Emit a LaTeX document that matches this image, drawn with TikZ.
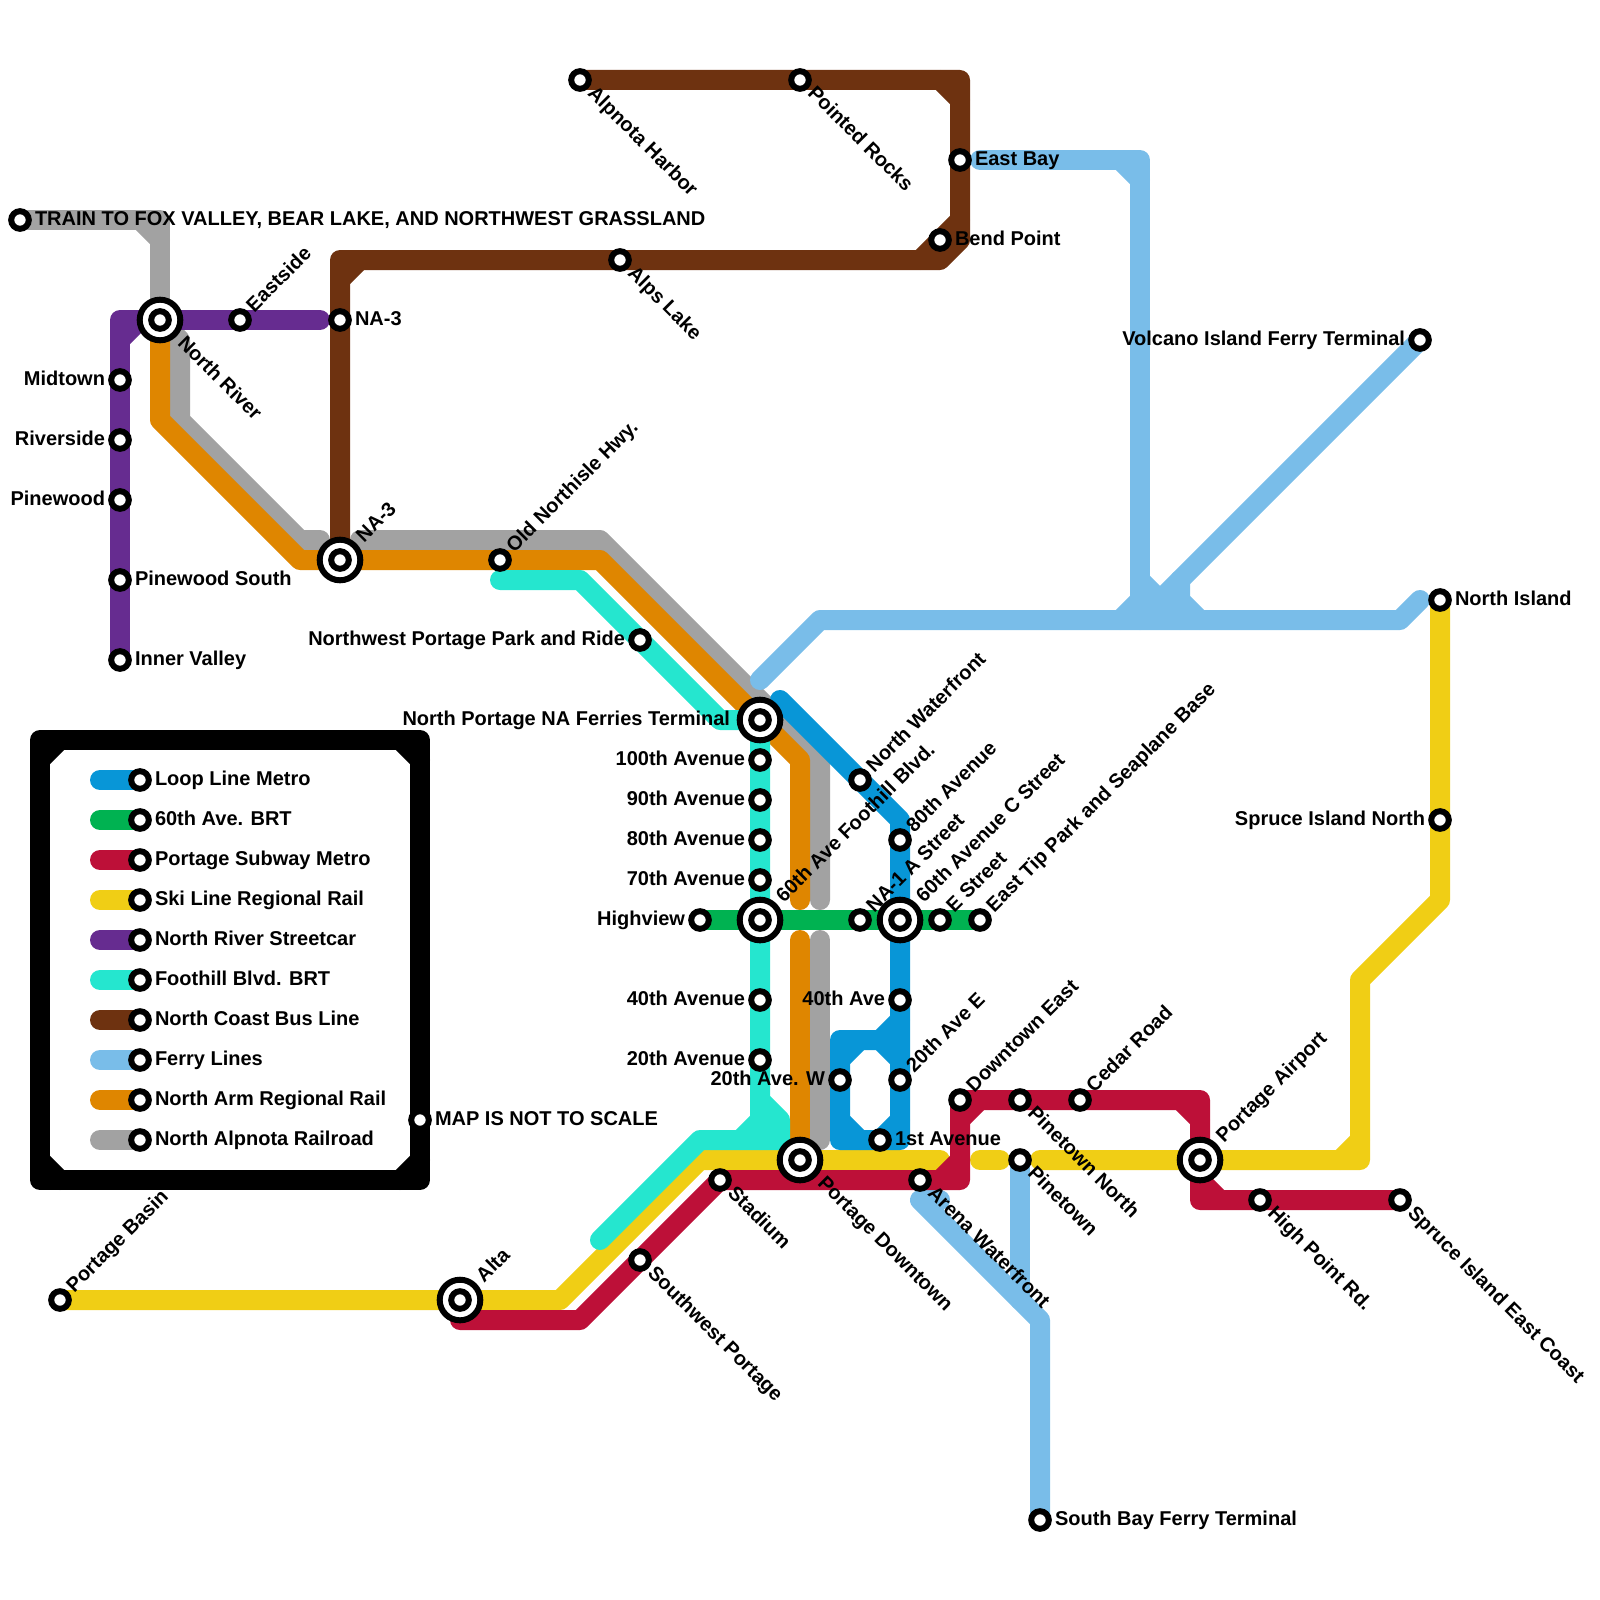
\documentclass[tikz,border=0pt]{standalone}
\usepackage{xcolor}
\usepackage{fontspec}
\setmainfont{Liberation Sans}
\usepackage{tikz}
\usetikzlibrary{positioning}
\definecolor{loopblue}{RGB}{8,150,215}
\definecolor{brtgreen}{RGB}{0,178,81}
\definecolor{subred}{RGB}{189,16,56}
\definecolor{skiyellow}{RGB}{240,206,21}
\definecolor{carpurple}{RGB}{102,44,144}
\definecolor{brtteal}{RGB}{37,230,207}
\definecolor{busbrown}{RGB}{110,50,16}
\definecolor{ferryblue}{RGB}{121,189,233}
\definecolor{armorange}{RGB}{223,134,0}
\definecolor{railgray}{RGB}{162,162,162}
\pgfdeclarelayer{lines}
\pgfsetlayers{lines,main}
\tikzset{
  metro/.style={line width=20pt, line cap=round, line join=round},
  loopline/.style={metro, color=loopblue},
  greenline/.style={metro, color=brtgreen},
  redline/.style={metro, color=subred},
  yellowline/.style={metro, color=skiyellow},
  purpleline/.style={metro, color=carpurple},
  tealline/.style={metro, color=brtteal},
  brownline/.style={metro, color=busbrown},
  ferryline/.style={metro, color=ferryblue},
  orangeline/.style={metro, color=armorange},
  grayline/.style={metro, color=railgray},
  frameline/.style={metro, color=black},
  stn/.style={circle, draw=black, fill=white, line width=6pt,
    minimum size=17.6pt, inner sep=0pt, outer sep=0pt},
  hub/.style={circle, draw=black, fill=white, line width=6pt,
    minimum size=40.6pt, inner sep=0pt, outer sep=0pt},
  lbl/.style={font=\fontsize{20}{24}\selectfont\bfseries, inner sep=0pt, outer sep=0pt},
  lblr/.style={lbl, anchor=base west, xshift=#1, yshift=-5.2pt},
  lblr/.default=15pt,
  lbll/.style={lbl, anchor=base east, xshift=-#1, yshift=-5.2pt},
  lbll/.default=15pt,
  lblne/.style={lbl, anchor=base west, rotate=45, xshift=#1, yshift=-5.2pt},
  lblne/.default=15pt,
  lblse/.style={lbl, anchor=base west, rotate=-45, xshift=#1, yshift=-5.2pt},
  lblse/.default=15pt
}
\begin{document}
\begin{tikzpicture}[x=1pt, y=-1pt]
  \useasboundingbox (0,0) rectangle (1600,1600);

  % Stations along the left side
  \node[stn] (train) at (20,220) {};
  \node[hub] (nriver) at (160,320) {};
  \node[stn] (nriverin) at (nriver) {};
  \node[stn] (eastside) at (240,320) {};
  \node[stn] (natop) at (340,320) {};
  \node[stn] (midtown) at (120,380) {};
  \node[stn] (riverside) at (120,440) {};
  \node[stn] (pinewood) at (120,500) {};
  \node[stn] (pinesouth) at (120,580) {};
  \node[stn] (innervalley) at (120,660) {};
  \node[hub] (nahub) at (340,560) {};
  \node[stn] (nahubin) at (nahub) {};
  \node[stn] (northisle) at (500,560) {};
  \node[stn] (parkride) at (640,640) {};

  % Stations along the north coast and the ferries
  \node[stn] (alpnota) at (580,80) {};
  \node[stn] (pointed) at (800,80) {};
  \node[stn] (eastbay) at (960,160) {};
  \node[stn] (bendpoint) at (940,240) {};
  \node[stn] (alpslake) at (620,260) {};
  \node[stn] (volcano) at (1420,340) {};
  \node[stn] (nisland) at (1440,600) {};
  \node[stn] (sprucen) at (1440,820) {};
  \node[stn] (southbay) at (1040,1520) {};

  % Stations in the centre
  \node[hub] (nportage) at (760,720) {};
  \node[stn] (nportagein) at (nportage) {};
  \node[stn] (ave100) at (760,760) {};
  \node[stn] (ave90) at (760,800) {};
  \node[stn] (ave80) at (760,840) {};
  \node[stn] (ave70) at (760,880) {};
  \node[hub] (foothill) at (760,920) {};
  \node[stn] (foothillin) at (foothill) {};
  \node[stn] (ave40) at (760,1000) {};
  \node[stn] (ave20) at (760,1060) {};
  \node[stn] (highview) at (700,920) {};
  \node[stn] (naone) at (860,920) {};
  \node[hub] (cstreet) at (900,920) {};
  \node[stn] (cstreetin) at (cstreet) {};
  \node[stn] (estreet) at (940,920) {};
  \node[stn] (easttip) at (980,920) {};
  \node[stn] (nwater) at (860,780) {};
  \node[stn] (loop80) at (900,840) {};
  \node[stn] (loop40) at (900,1000) {};
  \node[stn] (loop20e) at (900,1080) {};
  \node[stn] (loop20w) at (840,1080) {};
  \node[stn] (first) at (880,1140) {};

  % Stations along the south
  \node[stn] (basin) at (60,1300) {};
  \node[hub] (alta) at (460,1300) {};
  \node[stn] (altain) at (alta) {};
  \node[stn] (swportage) at (640,1260) {};
  \node[stn] (stadium) at (720,1180) {};
  \node[hub] (pdown) at (800,1160) {};
  \node[stn] (pdownin) at (pdown) {};
  \node[stn] (arena) at (920,1180) {};
  \node[stn] (dteast) at (960,1100) {};
  \node[stn] (pinenorth) at (1020,1100) {};
  \node[stn] (cedar) at (1080,1100) {};
  \node[stn] (pinetown) at (1020,1160) {};
  \node[hub] (airport) at (1200,1160) {};
  \node[stn] (airportin) at (airport) {};
  \node[stn] (highpoint) at (1260,1200) {};
  \node[stn] (spruceec) at (1400,1200) {};
  \node[stn] (noscale) at (420,1120) {};

  % Key
  \node[stn] (keyloop) at (140,780) {};
  \node[stn] (keygreen) at (140,820) {};
  \node[stn] (keyred) at (140,860) {};
  \node[stn] (keyyellow) at (140,900) {};
  \node[stn] (keypurple) at (140,940) {};
  \node[stn] (keyteal) at (140,980) {};
  \node[stn] (keybrown) at (140,1020) {};
  \node[stn] (keyferry) at (140,1060) {};
  \node[stn] (keyorange) at (140,1100) {};
  \node[stn] (keygray) at (140,1140) {};

  \begin{pgfonlayer}{lines}
    % North Alpnota Railroad
    \draw[grayline] (train.center) -- (160,220) -- (nriver.center);
    \draw[grayline] (140,220) -- (160,240);
    \draw[grayline] (nriver.center) -- (180,340) -- (180,420) -- (300,540) -- (320,540);
    \draw[grayline] (360,540) -- (600,540) -- (820,760) -- (820,900);
    \draw[grayline] (820,940) -- (820,1140);
    % North Arm Regional Rail
    \draw[orangeline] (nriver.center) -- (160,420) -- (300,560) -- (nahub.center)
      -- (northisle.center) -- (600,560) -- (800,760) -- (800,900);
    \draw[orangeline] (800,940) -- (pdown.center);
    % Ferry Lines
    \draw[ferryline] (760,680) -- (820,620) -- (1400,620) -- (1420,600);
    \draw[ferryline] (eastbay.center) ++(20,0) -- (1140,160) -- (1140,620);
    \draw[ferryline] (1120,160) -- (1140,180);
    \draw[ferryline] (1140,600) -- (1120,620);
    \draw[ferryline] (1140,580) -- (1180,620);
    \draw[ferryline] (volcano.center) -- (1140,620);
    \draw[ferryline] (1180,580) -- (1180,600) -- (1200,620);
    \draw[ferryline] (southbay.center) -- (1040,1320) -- (920,1200) -- (940,1200);
    \draw[ferryline] (pinetown.center) -- (1020,1300);
    % North Coast Bus Line
    \draw[brownline] (alpnota.center) -- (960,80) -- (960,240) -- (940,260) -- (340,260) -- (nahub.center);
    \draw[brownline] (940,80) -- (960,100);
    \draw[brownline] (960,220) -- (920,260);
    \draw[brownline] (360,260) -- (340,280);
    % North River Streetcar
    \draw[purpleline] (320,320) -- (120,320) -- (innervalley.center);
    \draw[purpleline] (140,320) -- (120,340);
    % Ski Line Regional Rail
    \draw[yellowline] (basin.center) -- (560,1300) -- (700,1160) -- (940,1160);
    \draw[yellowline] (980,1160) -- (1000,1160);
    \draw[yellowline] (1040,1160) -- (1360,1160) -- (1360,980) -- (1440,900) -- (nisland.center);
    \draw[yellowline] (1340,1160) -- (1360,1140);
    % Foothill Blvd. BRT
    \draw[tealline] (500,580) -- (580,580) -- (720,720) -- (nportage.center) -- (760,1100)
      -- (780,1120) -- (780,1140) -- (700,1140) -- (600,1240);
    \draw[tealline] (760,1100) -- (760,1140);
    \draw[tealline] (760,1120) -- (740,1140);
    % Portage Subway Metro
    \draw[redline] (alta.center) ++(0,20) -- (580,1320) -- (stadium.center) -- (960,1180)
      -- (960,1100) -- (1200,1100) -- (1200,1200) -- (spruceec.center);
    \draw[redline] (960,1160) -- (940,1180);
    \draw[redline] (980,1100) -- (960,1120);
    \draw[redline] (1180,1100) -- (1200,1120);
    \draw[redline] (1200,1180) -- (1220,1200);
    % 60th Ave. BRT
    \draw[greenline] (highview.center) -- (easttip.center);
    % Loop Line Metro
    \draw[loopline] (780,700) -- (900,820) -- (900,1140) -- (840,1140) -- (840,1040) -- (900,1040);
    \draw[loopline] (900,1020) -- (880,1040);
    \draw[loopline] (860,1040) -- (840,1060);
    \draw[loopline] (880,1040) -- (900,1060);
    \draw[loopline] (840,1120) -- (860,1140);
    \draw[loopline] (900,1120) -- (880,1140);
    % Key frame and swatches
    \draw[frameline] (40,740) rectangle (420,1180);
    \draw[frameline] (60,740) -- (40,760);
    \draw[frameline] (400,740) -- (420,760);
    \draw[frameline] (40,1160) -- (60,1180);
    \draw[frameline] (420,1160) -- (400,1180);
    \draw[loopline] (100,780) -- (keyloop.center);
    \draw[greenline] (100,820) -- (keygreen.center);
    \draw[redline] (100,860) -- (keyred.center);
    \draw[yellowline] (100,900) -- (keyyellow.center);
    \draw[purpleline] (100,940) -- (keypurple.center);
    \draw[tealline] (100,980) -- (keyteal.center);
    \draw[brownline] (100,1020) -- (keybrown.center);
    \draw[ferryline] (100,1060) -- (keyferry.center);
    \draw[orangeline] (100,1100) -- (keyorange.center);
    \draw[grayline] (100,1140) -- (keygray.center);
  \end{pgfonlayer}

  % Labels to the right
  \node[lblr] (trainlbl) at (train) {TRAIN TO FOX VALLEY, BEAR LAKE, AND NORTHWEST GRASSLAND};
  \node[lblr] (natoplbl) at (natop) {NA-3};
  \node[lblr] (pinesouthlbl) at (pinesouth) {Pinewood South};
  \node[lblr] (innervalleylbl) at (innervalley) {Inner Valley};
  \node[lblr] (eastbaylbl) at (eastbay) {East Bay};
  \node[lblr] (bendpointlbl) at (bendpoint) {Bend Point};
  \node[lblr] (nislandlbl) at (nisland) {North Island};
  \node[lblr] (southbaylbl) at (southbay) {South Bay Ferry Terminal};
  \node[lblr] (firstlbl) at (first) {1st Avenue};
  \node[lblr] (noscalelbl) at (noscale) {MAP IS NOT TO SCALE};

  % Labels to the left
  \node[lbll] (midtownlbl) at (midtown) {Midtown};
  \node[lbll] (riversidelbl) at (riverside) {Riverside};
  \node[lbll] (pinewoodlbl) at (pinewood) {Pinewood};
  \node[lbll] (parkridelbl) at (parkride) {Northwest Portage Park and Ride};
  \node[lbll=30pt] (nportagelbl) at (nportage) {North Portage NA Ferries Terminal};
  \node[lbll] (ave100lbl) at (ave100) {100th Avenue};
  \node[lbll] (ave90lbl) at (ave90) {90th Avenue};
  \node[lbll] (ave80lbl) at (ave80) {80th Avenue};
  \node[lbll] (ave70lbl) at (ave70) {70th Avenue};
  \node[lbll] (ave40lbl) at (ave40) {40th Avenue};
  \node[lbll] (ave20lbl) at (ave20) {20th Avenue};
  \node[lbll] (highviewlbl) at (highview) {Highview};
  \node[lbll] (loop40lbl) at (loop40) {40th Ave};
  \node[lbll] (loop20wlbl) at (loop20w) {20th Ave. W};
  \node[lbll] (volcanolbl) at (volcano) {Volcano Island Ferry Terminal};
  \node[lbll] (sprucenlbl) at (sprucen) {Spruce Island North};

  % Labels rising to the right
  \node[lblne] (eastsidelbl) at (eastside) {Eastside};
  \node[lblne=29pt] (nahublbl) at (nahub) {NA-3};
  \node[lblne] (northislelbl) at (northisle) {Old Northisle Hwy.};
  \node[lblne] (nwaterlbl) at (nwater) {North Waterfront};
  \node[lblne] (loop80lbl) at (loop80) {80th Avenue};
  \node[lblne=29pt] (foothilllbl) at (foothill) {60th Ave Foothill Blvd.};
  \node[lblne] (naonelbl) at (naone) {NA-1 A Street};
  \node[lblne=29pt] (cstreetlbl) at (cstreet) {60th Avenue C Street};
  \node[lblne] (estreetlbl) at (estreet) {E Street};
  \node[lblne] (easttiplbl) at (easttip) {East Tip Park and Seaplane Base};
  \node[lblne] (loop20elbl) at (loop20e) {20th Ave E};
  \node[lblne] (dteastlbl) at (dteast) {Downtown East};
  \node[lblne] (cedarlbl) at (cedar) {Cedar Road};
  \node[lblne=29pt] (airportlbl) at (airport) {Portage Airport};
  \node[lblne=29pt] (altalbl) at (alta) {Alta};
  \node[lblne] (basinlbl) at (basin) {Portage Basin};

  % Labels falling to the right
  \node[lblse] (alpnotalbl) at (alpnota) {Alpnota Harbor};
  \node[lblse] (pointedlbl) at (pointed) {Pointed Rocks};
  \node[lblse] (alpslakelbl) at (alpslake) {Alps Lake};
  \node[lblse=29pt] (nriverlbl) at (nriver) {North River};
  \node[lblse] (pinenorthlbl) at (pinenorth) {Pinetown North};
  \node[lblse] (pinetownlbl) at (pinetown) {Pinetown};
  \node[lblse] (arenalbl) at (arena) {Arena Waterfront};
  \node[lblse] (stadiumlbl) at (stadium) {Stadium};
  \node[lblse=29pt] (pdownlbl) at (pdown) {Portage Downtown};
  \node[lblse] (swportagelbl) at (swportage) {Southwest Portage};
  \node[lblse] (highpointlbl) at (highpoint) {High Point Rd.};
  \node[lblse] (spruceeclbl) at (spruceec) {Spruce Island East Coast};

  % Key labels
  \node[lblr] (keylooplbl) at (keyloop) {Loop Line Metro};
  \node[lblr] (keygreenlbl) at (keygreen) {60th Ave. BRT};
  \node[lblr] (keyredlbl) at (keyred) {Portage Subway Metro};
  \node[lblr] (keyyellowlbl) at (keyyellow) {Ski Line Regional Rail};
  \node[lblr] (keypurplelbl) at (keypurple) {North River Streetcar};
  \node[lblr] (keyteallbl) at (keyteal) {Foothill Blvd. BRT};
  \node[lblr] (keybrownlbl) at (keybrown) {North Coast Bus Line};
  \node[lblr] (keyferrylbl) at (keyferry) {Ferry Lines};
  \node[lblr] (keyorangelbl) at (keyorange) {North Arm Regional Rail};
  \node[lblr] (keygraylbl) at (keygray) {North Alpnota Railroad};
\end{tikzpicture}
\end{document}
